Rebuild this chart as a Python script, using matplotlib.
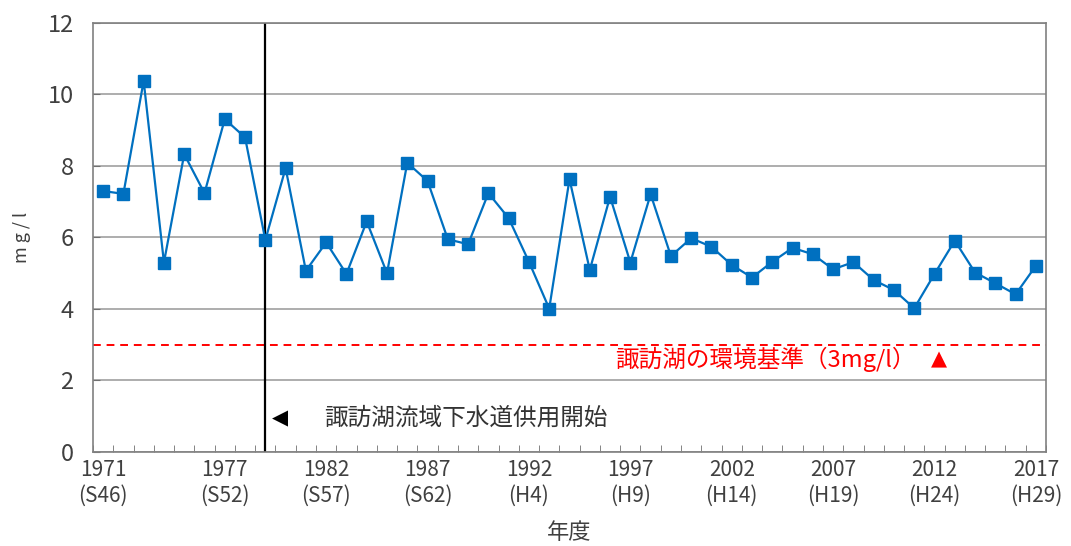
import numpy as np
import matplotlib.pyplot as plt
from matplotlib.ticker import FixedLocator

plt.rcParams['font.family'] = ['Noto Sans CJK JP', 'DejaVu Sans']

# fiscal years and COD (mg/l)
years = list(range(1971, 2018))
cod = [7.30, 7.22, 10.38, 5.30, 8.33, 7.24, 9.31, 8.80, 5.93, 7.94,
       5.07, 5.86, 4.98, 6.45, 5.00, 8.09, 7.58, 5.95, 5.81, 7.24,
       6.54, 5.32, 4.01, 7.63, 5.09, 7.14, 5.30, 7.21, 5.48, 5.98,
       5.74, 5.23, 4.88, 5.32, 5.71, 5.53, 5.11, 5.31, 4.81, 4.53,
       4.02, 4.98, 5.91, 5.02, 4.72, 4.41, 5.21]

label_years = [1971, 1977, 1982, 1987, 1992, 1997, 2002, 2007, 2012, 2017]
label_eras = ['S46', 'S52', 'S57', 'S62', 'H4', 'H9', 'H14', 'H19', 'H24', 'H29']
standard = 3
sewer_year = 1979

fig = plt.figure(figsize=(10.71, 5.46), dpi=100)
ax = fig.add_axes([0.0868, 0.1722, 0.8899, 0.7857])

x = np.arange(len(years))
ax.plot(x, cod, color='#0070C0', lw=1.6, marker='s', ms=8.5, zorder=3)

ax.axhline(standard, color='#FF0000', lw=1.4, ls=(0, (4, 3)), zorder=2)
ax.axvline(years.index(sewer_year), color='black', lw=1.6, zorder=2)

ax.set_xlim(-0.5, len(years) - 0.5)
ax.set_ylim(0, 12)
ax.set_yticks(range(0, 13, 2))
ax.yaxis.grid(True, color='#A0A0A0', lw=1.2)
ax.set_axisbelow(True)

ax.set_xticks([years.index(y) for y in label_years])
ax.set_xticklabels([f'{y}\n({e})' for y, e in zip(label_years, label_eras)],
                   fontsize=15, color='#404040', linespacing=1.25)
ax.xaxis.set_minor_locator(FixedLocator(np.arange(-0.5, len(years), 1)))
ax.tick_params(axis='x', which='major', length=0, pad=5)
ax.tick_params(axis='x', which='minor', direction='in', length=5, color='#707070')
ax.tick_params(axis='y', direction='in', length=5, color='#707070',
               labelsize=17, labelcolor='#404040', pad=14)

for s in ax.spines.values():
    s.set_color('#808080')
    s.set_linewidth(1.2)

ax.set_ylabel('m g / l', fontsize=13, color='#404040', labelpad=12)
ax.set_xlabel('年度', fontsize=16, color='#404040', labelpad=10)

ax.text(40.05, 2.6, '諏訪湖の環境基準（3mg/l）', color='#FF0000', fontsize=17,
        ha='right', va='center')
ax.text(40.8, 2.6, '▲', color='#FF0000', fontsize=15, ha='left', va='center',
        family=['DejaVu Sans'])
ax.text(8.35, 0.95, '◀', color='black', fontsize=15, ha='left', va='center',
        family=['DejaVu Sans'])
ax.text(10.9, 0.95, '諏訪湖流域下水道供用開始', color='#333333', fontsize=17,
        ha='left', va='center')

fig.savefig('out.png', dpi=100)
